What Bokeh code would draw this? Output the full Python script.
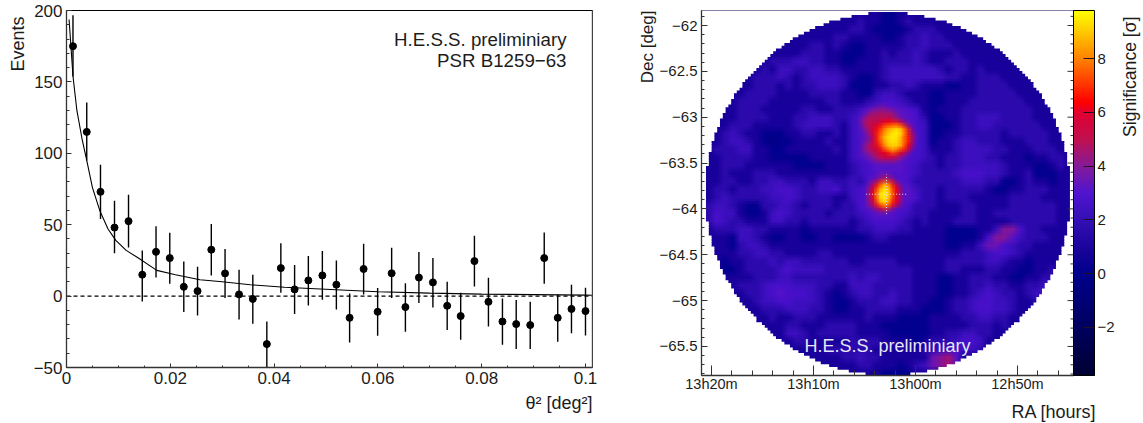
import numpy as np
from bokeh.embed import file_html
from bokeh.layouts import row
from bokeh.models import ColorBar, FixedTicker, Label, LinearColorMapper, Range1d, Span, Title
from bokeh.plotting import figure
from bokeh.resources import INLINE

FONT = "Liberation Sans"
INK = "#1c1c1c"

# --- left panel: theta^2 distribution ---
THETA2 = [0.00125, 0.00390, 0.00655, 0.00925, 0.01195, 0.01460, 0.01725, 0.01990, 0.02260,
          0.02525, 0.02790, 0.03055, 0.03325, 0.03590, 0.03860, 0.04130, 0.04395, 0.04660,
          0.04930, 0.05200, 0.05455, 0.05725, 0.05995, 0.06265, 0.06530, 0.06790, 0.07060,
          0.07335, 0.07595, 0.07860, 0.08130, 0.08400, 0.08665, 0.08935, 0.09205, 0.09465,
          0.09730, 0.10000]
EVENTS = [175, 115, 73, 48, 52.5, 15, 31, 26.6, 6.5, 3.5, 32.5, 15.9, 1.2, -2, -33.6, 19.6, 4.7, 11,
          14.5, 8, -15.2, 19, -11, 16, -7.7, 13, 9.6, -6.8, -14, 24.5, -4, -17.8, -19.6, -20.3,
          26.6, -15.2, -9, -10.5]
EVENTS_HI = [196.6, 135.5, 92, 66.8, 71, 32, 49, 44.4, 24.3, 20.6, 50.5, 33, 18.5, 15, -17.8, 37, 21.7, 28,
             31.5, 25, 1.9, 36.7, 5.6, 33.9, 9, 30.8, 26.6, 10, 2.3, 42.3, 12.9, -1.6, -2.8, -4,
             44.6, 1.2, 8, 5.8]
EVENTS_LO = [153.7, 95, 54, 30, 34, -3.7, 13, 8.6, -11.2, -13.5, 14.5, -1.4, -16.4, -19.4, -50, 2.3, -12.6, -6.5,
             -2.6, -9.3, -32.5, 1.2, -27.8, -1.4, -25, -4.9, -8, -23.8, -30.6, 6.8, -21.3, -34, -37, -37,
             8.6, -32, -26, -27.6]
FIT_X = [0.0005, 0.00125, 0.002, 0.003, 0.0039, 0.005, 0.0064, 0.008, 0.0095, 0.0115, 0.0137, 0.0174,
         0.021, 0.0257, 0.03, 0.0354, 0.042, 0.0489, 0.06, 0.07, 0.08, 0.09, 0.1, 0.1013]
FIT_Y = [193.7, 154, 130, 110, 95, 76, 60, 47, 39, 32, 27, 18, 15, 11.5, 10, 8, 6.2, 5, 3, 2.1, 1.4, 1, 0.7, 0.6]
X_TICKS = [0, 0.02, 0.04, 0.06, 0.08, 0.1]
X_LABELS = ["0", "0.02", "0.04", "0.06", "0.08", "0.1"]
X_MINOR = [0.005, 0.01, 0.015, 0.025, 0.03, 0.035, 0.045, 0.05, 0.055, 0.065, 0.07, 0.075, 0.085, 0.09, 0.095]
Y_TICKS = [-50, 0, 50, 100, 150, 200]
Y_LABELS = ["\u221250", "0", "50", "100", "150", "200"]
Y_MINOR = [-40, -30, -20, -10, 10, 20, 30, 40, 60, 70, 80, 90, 110, 120, 130, 140, 160, 170, 180, 190]

# --- right panel: significance map, read by eye. Each character is a level (see LEVEL_SIGMA) ---
LEVEL_SIGMA = [-0.2, 0.2, 1.0, 1.8, 2.4, 2.8, 3.2, 3.5, 4.0, 4.5, 5.0, 5.5, 6.0, 6.5, 7.0, 7.5, 8.0, 8.5, 9.0, 9.5]
MAP_ROWS = [
    "2222222222222222222222112222222222222222222222",
    "2222222222222222222322112322222222222222222222",
    "2222222222222222223321111233322222222222222222",
    "2222222222222222332222112334332222222222222222",
    "2222222222222332321122222334333222222222222222",
    "2222222222223332211122323343222322222222222222",
    "2222222233344332211222333343223332222222222222",
    "2222222324433443322222344444432332322222222222",
    "2222223334323444432112344444443322333222222222",
    "2222223332323344431112233432221122333322222222",
    "2222233332222333322113443222112222333332222222",
    "2222333322222223322" "23455432" "2112223333333222222",
    "2222333222223322333" "45566554" "2122233333333322222",
    "2222333322233444334" "55666655" "3112233444333322222",
    "2223332222234444324" "56666665" "4111233443333332222",
    "2234322111223322324" "56666665" "4112233333233333222",
    "2234432101122223224" "56666665" "4122344333222333222",
    "2333442211222222324" "56666665" "4222344443322233322",
    "2233332211111222224" "56666665" "4323344433222122332",
    "2233322222211112223" "45666654" "3323344444322211232",
    "2232223332222222223" "45666654" "3333455544322311122",
    "2233223344333244334" "35666653" "3333344433112322122",
    "2332333445543344534" "56666664" "3323333321122333222",
    "2343333344543333224" "56666665" "3323332222233332222",
    "3443211334432333233" "56666653" "3322233222233333322",
    "3544211245433332333" "45666543" "3222233223333333322",
    "3543322244332333332" "34555432" "3222333222233333322",
    "233344332222122222233444332222" "1111224" "88" "5332222",
    "222144321122112211112332222222" "1111258864" "333222",
    "222134432222222222222222222222" "1122477543" "322222",
    "2222334433222233222222222222222233345543222222",
    "2212233343443333332233332222223333344322122222",
    "2211233334544443333333333322223322233221122322",
    "2222223334433333334344333322211223332211223322",
    "2222333455544433224443333322211223343322334322",
    "2222233456555432123443343322211223454332344322",
    "2222223445544432112333443322112334554432233222",
    "2222222333444332112233332221112334554432222222",
    "2222222232233322222232221111222233443322222222",
    "2222222222332223333222111111222223332322222222",
    "2222222222443233333222211111223344332222222222",
    "2222222222233222223333222212333455422222222222",
    "2222222222222223333332222223344544322222222222",
    "2222222222222222233433222222789622222222222222",
    "2222222222222222222332221234789622222222222222",
    "2222222222222222222222111122222222222222222222",
]
UPPER_SOURCE_ROWS = [
    "45677876666554", "56889989766655", "68a9a9a9976665", "89a9aabb997665", "8aabbcddedb765",
    "79abdfhhiigd85", "68acefhijjifb6", "679cehijjjhdb7", "678cehijjigfd7", "68abefiijihdb6",
    "79abcfhiihgdb5", "789abcdfgdcb65", "6789abbcba9655", "56789a9a986655",
]
LOWER_SOURCE_ROWS = [
    "55688655", "678a9a75", "7adgheb7", "9cfijgdb", "adijjhdb",
    "adijjhdb", "acijjgcb", "9cfiiedb", "79bdfb85", "56787655",
]
RA_TICK_MIN = [800, 790, 780, 770]
RA_LABELS = ["13h20m", "13h10m", "13h00m", "12h50m"]
RA_MINOR_MIN = [798, 796, 794, 792, 788, 786, 784, 782, 778, 776, 774, 772, 768, 766]
DEC_TICKS = [-62, -62.5, -63, -63.5, -64, -64.5, -65, -65.5]
DEC_LABELS = ["\u221262", "\u221262.5", "\u221263", "\u221263.5", "\u221264", "\u221264.5", "\u221265", "\u221265.5"]
DEC_MINOR = [-61.9, -62.1, -62.2, -62.3, -62.4, -62.6, -62.7, -62.8, -62.9, -63.1, -63.2, -63.3, -63.4,
             -63.6, -63.7, -63.8, -63.9, -64.1, -64.2, -64.3, -64.4, -64.6, -64.7, -64.8, -64.9,
             -65.1, -65.2, -65.3, -65.4, -65.6, -65.7, -65.8]
FOV_RA, FOV_DEC, FOV_R_RA, FOV_R_DEC = 782.7, -63.84, 18.05, 1.985
SOURCE_RA, SOURCE_DEC = 782.84, -63.84
CB_TICKS = [-2, 0, 2, 4, 6, 8]
CB_LABELS = ["\u22122", "0", "2", "4", "6", "8"]
SIG_LOW, SIG_HIGH = -3.8, 9.8
PALETTE_STOPS = [(-3.8, "#000033"), (-2, "#000060"), (0, "#00008c"), (1, "#1c049c"), (2, "#3410b4"), (3, "#5014d0"),
                 (4, "#851a98"), (5, "#c0104f"), (6, "#e00030"), (6.4, "#ff0000"), (8, "#ff8000"), (9.8, "#ffff00")]


def build_palette(stops, n=256):
    xs = [s[0] for s in stops]
    rgb = [[int(s[1][i:i + 2], 16) for s in stops] for i in (1, 3, 5)]
    t = np.linspace(xs[0], xs[-1], n)
    ch = [np.interp(t, xs, c).round().astype(int) for c in rgb]
    return ["#%02x%02x%02x" % (r, g, b) for r, g, b in zip(*ch)]


def decode(rows, width):
    return np.array([[LEVEL_SIGMA[int(c, 36)] for c in r.ljust(width, "2")[:width]] for r in rows], dtype=float)


def style_axis(ax, ticks, labels, minor, size, major_in, minor_in, standoff):
    ax.ticker = FixedTicker(ticks=ticks, minor_ticks=minor)
    ax.major_label_overrides = dict(zip(ticks, labels))
    ax.major_label_text_font = FONT
    ax.major_label_text_font_size = size
    ax.major_label_text_color = INK
    ax.major_label_standoff = standoff
    ax.major_label_orientation = "horizontal"
    ax.major_tick_in, ax.major_tick_out = major_in, 0
    ax.minor_tick_in, ax.minor_tick_out = minor_in, 0
    ax.axis_line_color = "#333333"
    ax.major_tick_line_color = "#333333"
    ax.minor_tick_line_color = "#333333"
    ax.axis_line_width = 1.3


def side_title(fig, txt, side, align, offset, standoff, size="18px"):
    fig.add_layout(Title(text=txt, align=align, offset=offset, standoff=standoff, text_font=FONT,
                         text_font_size=size, text_font_style="normal", text_color=INK), side)


# ---------- left figure: frame 66..592 x 10..367 ----------
X_MAX = 0.10135
p1 = figure(width=632, height=423, output_backend="svg", toolbar_location=None,
            x_range=Range1d(0, X_MAX), y_range=Range1d(-50, 200),
            frame_width=526, frame_height=357, min_border_left=66, min_border_top=10,
            min_border_right=40, min_border_bottom=10, background_fill_color="white",
            outline_line_color="black", outline_line_width=1)
p1.grid.visible = False
style_axis(p1.xaxis[0], X_TICKS, X_LABELS, X_MINOR, "17px", 4, 2, 4)
style_axis(p1.yaxis[0], Y_TICKS, Y_LABELS, Y_MINOR, "17px", 5, 3, 4)

p1.line(FIT_X, FIT_Y, line_color="black", line_width=1.1)
p1.line([0, 0.1013], [0, 0], line_color="black", line_width=1.1, line_dash="4 3")
p1.segment(THETA2, EVENTS_LO, THETA2, EVENTS_HI, line_color="black", line_width=1.4)
p1.scatter(THETA2, EVENTS, size=7, color="black")
p1.add_layout(Span(location=X_MAX, dimension="height", line_color="#808080", line_width=1.6))


def text_left(txt, x, y):
    p1.add_layout(Label(x=(x - 66.5) / 5185, y=200 - (y - 10) / 1.428, text=txt, text_font=FONT, text_font_size="18.7px",
                        text_color=INK, text_align="right", text_baseline="alphabetic"))


text_left("H.E.S.S. preliminiary", 566, 39)
text_left("PSR B1259\u221263", 566, 60)
side_title(p1, "\u03b8\u00b2 [deg\u00b2]", "below", "right", 0, 8)
side_title(p1, "Events", "left", "right", 6, 5)

# ---------- right figure: frame 701..1073 x 6..371, colour bar 1073..1094 ----------
PX_PER_MIN, PX_PER_DEG = 10.2, 91.7


def u_of(x):  # page x -> minus RA minutes, so that RA falls to the right
    return -(800 - (x - 711) / PX_PER_MIN)


def v_of(y):  # page y -> declination
    return -62 - (y - 21) / PX_PER_DEG


palette = build_palette(PALETTE_STOPS)
mapper = LinearColorMapper(palette=palette, low=SIG_LOW, high=SIG_HIGH, nan_color="#00000000")
p2 = figure(width=484, height=423, output_backend="svg", toolbar_location=None,
            x_range=Range1d(u_of(701), u_of(1073)), y_range=Range1d(v_of(371), v_of(6)),
            frame_width=372, frame_height=365, min_border_left=69, min_border_top=6,
            min_border_right=10, min_border_bottom=10, background_fill_color="white",
            outline_line_color="black", outline_line_width=1)
p2.grid.visible = False
style_axis(p2.xaxis[0], [-m for m in RA_TICK_MIN], RA_LABELS, [-m for m in RA_MINOR_MIN], "14.5px", 10, 5, 0)
style_axis(p2.yaxis[0], DEC_TICKS, DEC_LABELS, DEC_MINOR, "15px", 6, 3, 4)

# read cells: the background grid at 8 px, the two sources at 4 px, put together on one 4 px grid
grid = np.repeat(np.repeat(decode(MAP_ROWS, 46), 2, axis=0), 2, axis=1)
grid[24:38, 39:53] = decode(UPPER_SOURCE_ROWS, 14)
grid[41:51, 41:49] = decode(LOWER_SOURCE_ROWS, 8)
grid = np.flipud(grid)

# The same read cells, laid over one another with small shifts and equal shares of opacity: no new values are made,
# the browser only shows them softened, as the reference's fine cells look.
SHIFTS_PX = [-2.67, 0.0, 2.67]
x0, x1, y0, y1 = u_of(704), u_of(704 + 8 * 46), v_of(5 + 8 * 46), v_of(5)
layer = 0
for sx_ in SHIFTS_PX:
    for sy_ in SHIFTS_PX:
        layer += 1
        p2.image(image=[grid], x=x0 + sx_ / PX_PER_MIN, y=y0 + sy_ / PX_PER_DEG, dw=x1 - x0, dh=y1 - y0,
                 color_mapper=mapper, global_alpha=1.0 / layer)

# stepped white mask outside the circular field of view (telescope cells about 2.8 px wide)
CELL_RA, CELL_DEC = 2.8 / PX_PER_MIN, 2.8 / PX_PER_DEG
ulo, uhi, vlo, vhi = u_of(695), u_of(1075), v_of(380), v_of(0)
rows_v = np.arange(vlo, vhi, CELL_DEC)
left, right, top, bottom = [], [], [], []
for v in rows_v:
    t = ((v + CELL_DEC / 2 - FOV_DEC) / FOV_R_DEC) ** 2
    hw = 0.0 if t >= 1 else np.floor(FOV_R_RA * np.sqrt(1 - t) / CELL_RA) * CELL_RA
    uc = -FOV_RA
    if hw == 0:
        left.append(ulo); right.append(uhi); bottom.append(v); top.append(v + CELL_DEC * 1.25)
    else:
        left += [ulo, uc + hw]; right += [uc - hw, uhi]
        bottom += [v, v]; top += [v + CELL_DEC * 1.25, v + CELL_DEC * 1.25]
p2.quad(left=left, right=right, top=top, bottom=bottom, fill_color="white", line_color=None)

# mirrored ticks on the right edge of the map
edge_u, maj_u, min_u = u_of(1073), u_of(1067), u_of(1070)
p2.segment([maj_u] * len(DEC_TICKS), DEC_TICKS, [edge_u] * len(DEC_TICKS), DEC_TICKS, line_color="#333333", line_width=1)
p2.segment([min_u] * len(DEC_MINOR), DEC_MINOR, [edge_u] * len(DEC_MINOR), DEC_MINOR, line_color="#333333", line_width=1)

p2.line([-(SOURCE_RA + 2.0), -(SOURCE_RA - 2.0)], [SOURCE_DEC, SOURCE_DEC], line_color="#e4e4f4", line_width=1, line_dash="1 2")
p2.line([-SOURCE_RA, -SOURCE_RA], [SOURCE_DEC - 0.215, SOURCE_DEC + 0.215], line_color="#e4e4f4", line_width=1, line_dash="1 2")

cb = ColorBar(color_mapper=mapper, width=21, padding=0, margin=0, location=(0, 0),
              ticker=FixedTicker(ticks=CB_TICKS), minor_tick_line_color=None,
              major_label_overrides=dict(zip(CB_TICKS, CB_LABELS)), major_label_text_font=FONT,
              major_label_text_font_size="15px", major_label_text_color=INK, label_standoff=3,
              major_tick_in=11, major_tick_out=0, major_tick_line_color="#201020", major_tick_line_width=1,
              bar_line_color="black", border_line_color=None, background_fill_color=None)
p2.add_layout(cb, "right")

p2.add_layout(Label(x=u_of(887), y=v_of(341), text="H.E.S.S. preliminiary", text_font=FONT, text_font_size="18px",
                    text_color="#e6e6f8", text_align="center", text_baseline="alphabetic"))
side_title(p2, "Dec [deg]", "left", "right", 0, 0, "17px")
side_title(p2, "RA [hours]", "below", "left", 310, 10)

# ---------- narrow strip at the far right that carries the colour bar's vertical title ----------
p3 = figure(width=27, height=423, output_backend="svg", toolbar_location=None,
            x_range=Range1d(0, 1), y_range=Range1d(0, 1), x_axis_location=None, y_axis_location=None,
            frame_width=7, frame_height=365, min_border_left=20, min_border_right=0, min_border_top=6,
            min_border_bottom=10, outline_line_color=None)
p3.grid.visible = False
side_title(p3, "Significance [\u03c3]", "left", "right", 6, 0, "17.6px")

layout = row(p1, p2, p3)
open("out.html", "w").write(file_html(layout, INLINE))
